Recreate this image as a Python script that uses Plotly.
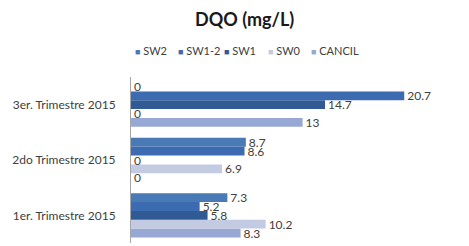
import plotly.graph_objects as go

categories = ["1er. Trimestre 2015", "2do Trimestre 2015", "3er. Trimestre 2015"]
series_names = ["SW2", "SW1-2", "SW1", "SW0", "CANCIL"]
sw2 = [7.3, 8.7, 0]
sw1_2 = [5.2, 8.6, 20.7]
sw1 = [5.8, 0, 14.7]
sw0 = [10.2, 6.9, 0]
cancil = [8.3, 0, 13]
colors = ["#4a7ab6", "#3c6bb2", "#2f5a94", "#c3cbe2", "#98a8d4"]

values = [sw2, sw1_2, sw1, sw0, cancil]

# page body has an 8px margin; figure is sized/positioned to compensate
OFF = 8
W, H = 469 - OFF, 246 - OFF
L, R, T, B = 131 - OFF, 8, 77 - OFF, 3
pw = W - L - R
ph = H - T - B

fig = go.Figure()
# add in reverse so SW2 is at the top of each group
for name, vals, col in reversed(list(zip(series_names, values, colors))):
    fig.add_trace(go.Bar(
        y=categories, x=vals, name=name, orientation="h",
        marker=dict(color=col, line=dict(width=0)),
        text=[f"{v:g}" for v in vals], textposition="outside",
        constraintext="none",
        textfont=dict(size=12, color="#404040", family="Lato"),
        cliponaxis=False, showlegend=False,
    ))

# legend row (drawn as text entries)
legend_x_px = [133, 176, 222, 266, 309]
legend_y_px = 50
annotations = []
for name, col, px in zip(series_names, colors, legend_x_px):
    annotations.append(dict(
        text=f"<span style='color:{col};font-size:9px'>■</span> {name}",
        x=(px - OFF - L) / pw, xref="paper", xanchor="left",
        y=1 + (T - (legend_y_px - OFF)) / ph, yref="paper", yanchor="middle",
        showarrow=False, font=dict(size=11, color="#404040", family="Lato"),
    ))

# title as a paper annotation (avoids clipping at the top edge)
annotations.append(dict(
    text="<b>DQO (mg/L)</b>",
    x=(244 - OFF - L) / pw, xref="paper", xanchor="center",
    y=1 + (T - (19 - OFF)) / ph, yref="paper", yanchor="middle",
    showarrow=False, font=dict(size=18, color="#1a1a1a", family="Lato"),
))

fig.update_layout(
    width=W, height=H,
    margin=dict(l=L, r=R, t=T, b=B),
    paper_bgcolor="white", plot_bgcolor="white",
    font=dict(family="Lato, Liberation Sans, sans-serif", size=12, color="#404040"),
    barmode="group", bargap=0.2, bargroupgap=0,
    annotations=annotations,
    showlegend=False,
)
fig.update_xaxes(range=[0, 25], visible=False, showgrid=False, zeroline=False)
fig.update_yaxes(showline=True, linecolor="#a6a6a6", linewidth=1, ticks="",
                 showgrid=False, ticklabelstandoff=12,
                 tickfont=dict(size=12, color="#404040", family="Lato"))

fig.write_html("out.html")
